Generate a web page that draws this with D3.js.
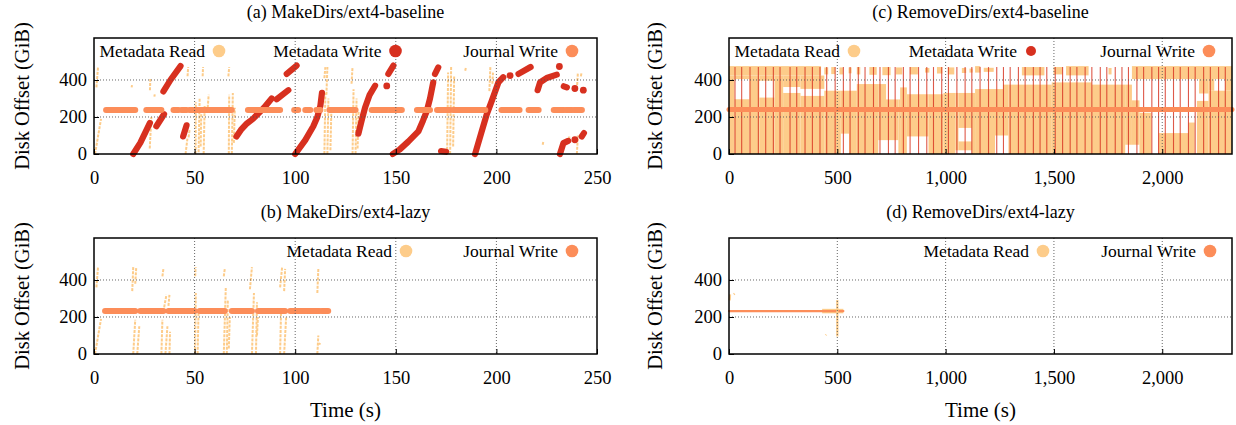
<!DOCTYPE html>
<html><head><meta charset="utf-8">
<script src="https://cdn.jsdelivr.net/npm/d3@7"></script>
<style>body{margin:0;background:#fff}</style>
</head><body>
<svg id="c" width="1236" height="425"></svg>
<script>
// ---------------- DATA ----------------
const makeTicks = [0, 50, 100, 150, 200, 250];
const removeTicks = [0, 500, 1000, 1500, 2000];
const offsetTicks = [0, 200, 400];
const makeDomain = [0, 250];
const removeDomain = [0, 2322];
const offsetDomain = [0, 627];
const seriesNames = ["Metadata Read", "Metadata Write", "Journal Write"];
const panelTitles = ["(a) MakeDirs/ext4-baseline", "(b) MakeDirs/ext4-lazy", "(c) RemoveDirs/ext4-baseline", "(d) RemoveDirs/ext4-lazy"];

// (a) Metadata Write runs: [time s, offset GiB]
const makeBaseWrite = [
  [[19.5,0],[23,60],[27.8,168]],
  [[31,150],[34.8,215]],
  [[34.5,338],[38,400],[43,475]],
  [[44.3,95],[46,155]],
  [[70.8,95],[73,130],[76,165],[79,190],[81,212],[84.5,250],[88.3,300]],
  [[90.8,296],[96.6,345]],
  [[95.8,433],[100.7,478]],
  [[100,0],[105,75],[109,150],[111,200],[112.5,260],[113.3,330]],
  [[131.4,110],[133,180],[134.7,250],[137,320],[139.7,369]],
  [[145.5,368]],
  [[146.3,433],[148.8,478]],
  [[148.5,0],[152,25],[156.2,67],[161.2,122],[163.5,180],[165.4,232],[167,300],[168.6,387]],
  [[169.5,433],[171.1,468]],
  [[172.5,16],[175,12]],
  [[189.4,0],[192.7,122],[195.2,214],[197.7,287],[201,387],[203.4,415]],
  [[206.8,424]],
  [[211,433],[217,470]],
  [[220.5,345],[221.7,387],[225,411],[230,429]],
  [[231.3,473]],
  [[233.5,366],[235,360]],
  [[239,354]],
  [[243.2,345]],
  [[231.6,0],[233.3,59],[235.7,71]],
  [[239,77]],
  [[242.4,95],[243.5,113]]
];
// (a) Journal Write runs [start s, end s] at journal offset
const makeBaseJournalOffset = 238;
const makeBaseJournal = [[6,20.5],[26,33.5],[39.5,42],[43.5,46],[47.5,57],[57.5,68.5],[76.5,92.5],[99.5,101.5],[105,107.5],[110.5,112.5],[117,130],[138,153],[160.5,167],[170.5,177],[178.5,194.5],[202.5,211.5],[216,221],[228.5,233.5],[234.5,237.5],[238.5,242.5]];
// (a) Metadata Read streaks [t0, off0, t1, off1]
const makeBaseRead = [
  [0.5,0,3.5,190],[1.2,360,2,470],
  [18.7,360,18.9,372],
  [27.8,345,28,405],[27.7,30,28.5,200],[30,310,30.2,322],
  [46.5,420,46.8,470],[45.5,0,46.5,90],[47,90,47.5,130],
  [50.5,0,50.6,280],[52,10,52.5,300],[53,40,53.3,220],[54,420,54.2,470],[54.5,0,55,260],[56.5,250,57,320],
  [66.8,420,67.2,470],[67,0,67.2,320],[68.5,0,69,330],[69.5,60,70,250],
  [114.5,410,115,470],[115.5,320,116,470],[114.5,0,115,330],[116,0,116.5,300],[117.5,20,118,250],
  [128,380,128.5,470],[128.5,0,129,350],[130,0,130.5,300],[131,30,131.5,230],
  [175.5,0,176,440],[177,0,177.5,470],[178.5,40,179,420],
  [184.5,450,184.8,465],
  [196.5,340,197,470],[198,380,198.3,440],
  [223,50,223.3,65],[236,80,236.3,95],[240,0,240.5,100],[240,350,240.5,440],[242,420,242.3,440]
];

// (b)
const makeLazyJournalOffset = 233;
const makeLazyJournal = [[5.5,20.5],[23,34.5],[37,50],[52.5,65],[68.5,78.5],[81.5,95],[97.5,112],[113.2,116.4]];
const makeLazyRead = [
  [0.5,0,3.5,190],[1.2,360,2,470],
  [19,340,19.5,470],[20.5,380,21,470],[19.5,0,20.5,185],[21.5,0,22.5,150],
  [34,420,34.5,460],[34.5,230,36,320],[37,260,37.5,320],[33.5,0,34,185],[35.5,0,36.5,150],[37.5,0,37.8,120],
  [50.3,420,50.5,470],[50.2,0,50.6,330],[51.5,0,52,250],
  [64.5,420,65,460],[64.5,0,65.5,360],[66,0,66.5,290],[67,30,67.5,200],
  [77.5,350,78.5,470],[78.5,0,79.5,330],[80.5,0,81,280],[81,100,81.5,200],
  [92.5,360,93.5,470],[94.5,340,95,460],[92.5,0,93,250],[94.5,0,95.5,200],
  [111,330,111.5,460],[111,0,111.5,100],[112,50,112.3,60]
];

// (c) Metadata Read coverage blocks [t0, t1, offLow, offHigh]
const removeBaseReadBlocks = [
  [0,425,424,475],
  [440,458,430,468],[472,490,432,470],[510,526,430,468],[552,566,436,468],[590,606,430,470],[648,682,428,470],[708,746,426,470],[770,800,430,468],[835,872,430,470],[905,925,440,465],[960,985,435,470],[1010,1040,430,468],[1075,1095,438,465],[1110,1125,440,462],
  [1136,1160,440,475],[1176,1222,444,466],[1352,1456,425,470],[1498,1540,430,470],[1556,1660,425,475],[1752,1766,430,465],[1860,2322,405,475],
  [0,25,0,424],
  [25,95,0,296],[25,95,405,424],
  [95,140,0,424],
  [140,210,0,305],[140,210,396,424],
  [210,250,0,424],
  [250,330,0,330],[250,330,362,424],
  [330,440,0,314],[330,440,352,424],
  [440,516,0,342],
  [516,554,110,342],
  [554,590,0,342],
  [590,689,0,378],
  [689,725,75,378],
  [725,782,75,295],
  [782,790,0,295],
  [790,821,0,360],
  [821,921,95,323],
  [921,990,0,323],
  [990,1045,0,330],
  [1045,1059,20,330],
  [1059,1121,141,330],[1059,1121,20,68],
  [1121,1136,0,330],
  [1136,1228,0,351],
  [1228,1265,100,351],
  [1265,1290,100,375],
  [1290,1490,0,375],
  [1490,1675,0,387],
  [1675,1829,0,375],
  [1829,1860,50,375],
  [1860,1895,50,290],
  [1895,1950,0,223],
  [1983,2121,0,113],
  [2121,2150,0,170],
  [2160,2214,0,287],
  [2214,2322,0,342],
  [2170,2214,327,405],
  [2214,2240,342,405],[2290,2322,342,405]
];
// (c) Metadata Write burst times (s), each spanning 0..470 GiB
const removeBaseWriteTimes = [27.7,58.5,97,135.5,169.4,204.8,235.6,281.8,312.6,351,385,420,451,490,528,559,597,628,667,697,736,767,805,836,875,913,944,982,1013,1052,1090,1121,1159,1198,1236,1267,1298,1336,1367,1405,1436,1467,1506,1540,1575,1606,1644,1675,1714,1744,1783,1814,1844,1883,1914,1952,1983,2014,2052,2083,2121,2152,2191,2222,2260,2291];
const removeBaseWriteSpan = [0, 470];
const removeBaseJournalOffset = 240;
const removeBaseJournal = [[0,2322]];

// (d)
const removeLazyJournalOffset = 232;
const removeLazyJournal = [[0,528]];
const removeLazyRead = [[3,290,5,322],[22,322,26,326],[500,95,500,292],[447,101,449,105]];
const removeLazyReadBand = [[430,528]];

// ---------------- DRAWING ----------------
const svg = d3.select('#c');
const FONT = '"Liberation Serif","Times New Roman",serif';
const COL = {read:'#fdcc8a', write:'#d7301f', journal:'#fc8d59'};

function drawReadStreaks(g, x, y, rows) {
  g.selectAll(null).data(rows).join('line')
    .attr('x1', d => x(d[0])).attr('y1', d => y(d[1]))
    .attr('x2', d => x(d[2])).attr('y2', d => y(d[3]))
    .attr('stroke', COL.read).attr('stroke-width', 2)
    .attr('stroke-dasharray', '3,1.2');
}
function drawJournal(g, x, y, runs, off, w) {
  g.selectAll(null).data(runs).join('line')
    .attr('x1', d => x(d[0])).attr('x2', d => x(d[1]))
    .attr('y1', y(off)).attr('y2', y(off))
    .attr('stroke', COL.journal).attr('stroke-width', w).attr('stroke-linecap', 'round');
}
function drawWriteRuns(g, x, y, runs) {
  const line = d3.line().x(d => x(d[0])).y(d => y(d[1]));
  g.selectAll(null).data(runs.filter(r => r.length > 1)).join('path')
    .attr('d', line).attr('fill', 'none').attr('stroke', COL.write)
    .attr('stroke-width', 6.2).attr('stroke-linecap', 'round').attr('stroke-linejoin', 'round');
  g.selectAll(null).data(runs.filter(r => r.length === 1)).join('circle')
    .attr('cx', d => x(d[0][0])).attr('cy', d => y(d[0][1])).attr('r', 3.4).attr('fill', COL.write);
}

const panels = [
  {left:94, right:597, top:38, bottom:154, xDomain:makeDomain, xTicks:makeTicks, fmt:d3.format('d'),
   title:panelTitles[0], yLabelX:29, xLabel:false,
   legend:[{name:seriesNames[0], col:COL.read, cx:219, r:6.3},{name:seriesNames[1], col:COL.write, cx:395.5, r:6.3},{name:seriesNames[2], col:COL.journal, cx:572, r:6.3}],
   draw:(g,x,y)=>{ drawReadStreaks(g,x,y,makeBaseRead); drawWriteRuns(g,x,y,makeBaseWrite); drawJournal(g,x,y,makeBaseJournal,makeBaseJournalOffset,6); }},
  {left:94, right:597, top:238, bottom:354, xDomain:makeDomain, xTicks:makeTicks, fmt:d3.format('d'),
   title:panelTitles[1], yLabelX:29, xLabel:true,
   legend:[{name:seriesNames[0], col:COL.read, cx:406, r:6.3},{name:seriesNames[2], col:COL.journal, cx:572, r:6.3}],
   draw:(g,x,y)=>{ drawReadStreaks(g,x,y,makeLazyRead); drawJournal(g,x,y,makeLazyJournal,makeLazyJournalOffset,6); }},
  {left:729, right:1232, top:38, bottom:154, xDomain:removeDomain, xTicks:removeTicks, fmt:d3.format(','),
   title:panelTitles[2], yLabelX:662, xLabel:false,
   legend:[{name:seriesNames[0], col:COL.read, cx:854, r:6.3},{name:seriesNames[1], col:COL.write, cx:1031, r:5},{name:seriesNames[2], col:COL.journal, cx:1209, r:6.3}],
   draw:(g,x,y)=>{
     g.selectAll(null).data(removeBaseReadBlocks).join('rect')
       .attr('x', d => x(d[0])).attr('y', d => y(d[3]))
       .attr('width', d => x(d[1]) - x(d[0])).attr('height', d => y(d[2]) - y(d[3]))
       .attr('fill', COL.read);
     g.selectAll(null).data(removeBaseWriteTimes).join('line')
       .attr('x1', d => x(d)).attr('x2', d => x(d))
       .attr('y1', y(removeBaseWriteSpan[0])).attr('y2', y(removeBaseWriteSpan[1]))
       .attr('stroke', COL.write).attr('stroke-width', 1.1).attr('opacity', 0.8);
     drawJournal(g,x,y,removeBaseJournal,removeBaseJournalOffset,5);
   }},
  {left:729, right:1232, top:238, bottom:354, xDomain:removeDomain, xTicks:removeTicks, fmt:d3.format(','),
   title:panelTitles[3], yLabelX:662, xLabel:true,
   legend:[{name:seriesNames[0], col:COL.read, cx:1043, r:6.3},{name:seriesNames[2], col:COL.journal, cx:1210, r:6.3}],
   draw:(g,x,y)=>{
     g.selectAll(null).data(removeLazyReadBand).join('line')
       .attr('x1', d => x(d[0])).attr('x2', d => x(d[1]))
       .attr('y1', y(removeLazyJournalOffset)).attr('y2', y(removeLazyJournalOffset))
       .attr('stroke', COL.read).attr('stroke-width', 4.5);
     drawJournal(g,x,y,removeLazyJournal,removeLazyJournalOffset,2.2);
     g.selectAll(null).data(removeLazyRead).join('line')
       .attr('x1', d => x(d[0])).attr('y1', d => y(d[1]))
       .attr('x2', d => x(d[2])).attr('y2', d => y(d[3]))
       .attr('stroke', COL.read).attr('stroke-width', 2.2);
   }}
];

panels.forEach(p => {
  const x = d3.scaleLinear().domain(p.xDomain).range([p.left, p.right]);
  const y = d3.scaleLinear().domain(offsetDomain).range([p.bottom, p.top]);
  const g = svg.append('g');
  p.draw(g.append('g'), x, y);

  const grid = g.append('g').attr('stroke', '#555').attr('stroke-width', 0.9).attr('stroke-dasharray', '1,2');
  p.xTicks.filter(t => t > p.xDomain[0] && t < p.xDomain[1]).forEach(t =>
    grid.append('line').attr('x1', x(t)).attr('x2', x(t)).attr('y1', p.top).attr('y2', p.bottom));
  offsetTicks.filter(v => v > 0).forEach(v =>
    grid.append('line').attr('x1', p.left).attr('x2', p.right).attr('y1', y(v)).attr('y2', y(v)));

  const ax = g.append('g').attr('transform', `translate(0,${p.bottom})`)
    .call(d3.axisBottom(x).tickValues(p.xTicks).tickFormat(p.fmt).tickSizeInner(-5).tickSizeOuter(0).tickPadding(17));
  ax.select('.domain').remove();
  ax.selectAll('text').attr('font-family', FONT).attr('font-size', 18.5).attr('fill', '#000');
  ax.selectAll('line').attr('stroke', '#000');

  const ay = g.append('g').attr('transform', `translate(${p.left},0)`)
    .call(d3.axisLeft(y).tickValues(offsetTicks).tickFormat(d3.format('d')).tickSizeInner(-5).tickSizeOuter(0).tickPadding(7));
  ay.select('.domain').remove();
  ay.selectAll('text').attr('font-family', FONT).attr('font-size', 18.5).attr('fill', '#000');
  ay.selectAll('line').attr('stroke', '#000');

  g.append('rect').attr('x', p.left).attr('y', p.top).attr('width', p.right - p.left).attr('height', p.bottom - p.top)
    .attr('fill', 'none').attr('stroke', '#000').attr('stroke-width', 1.5);

  g.append('text').attr('x', (p.left + p.right) / 2).attr('y', p.top - 20)
    .attr('text-anchor', 'middle').attr('font-family', FONT).attr('font-size', 18).text(p.title);

  g.append('text').attr('transform', `translate(${p.yLabelX},${(p.top + p.bottom) / 2}) rotate(-90)`)
    .attr('text-anchor', 'middle').attr('font-family', FONT).attr('font-size', 20.5).text('Disk Offset (GiB)');

  if (p.xLabel) {
    g.append('text').attr('x', (p.left + p.right) / 2).attr('y', p.bottom + 63)
      .attr('text-anchor', 'middle').attr('font-family', FONT).attr('font-size', 21).text('Time (s)');
  }

  const lg = g.append('g');
  p.legend.forEach(l => {
    lg.append('text').attr('x', l.cx - 14).attr('y', p.top + 18.5).attr('text-anchor', 'end')
      .attr('font-family', FONT).attr('font-size', 17.5).text(l.name);
    lg.append('circle').attr('cx', l.cx).attr('cy', p.top + 13).attr('r', l.r).attr('fill', l.col);
  });
});
</script>
</body></html>
